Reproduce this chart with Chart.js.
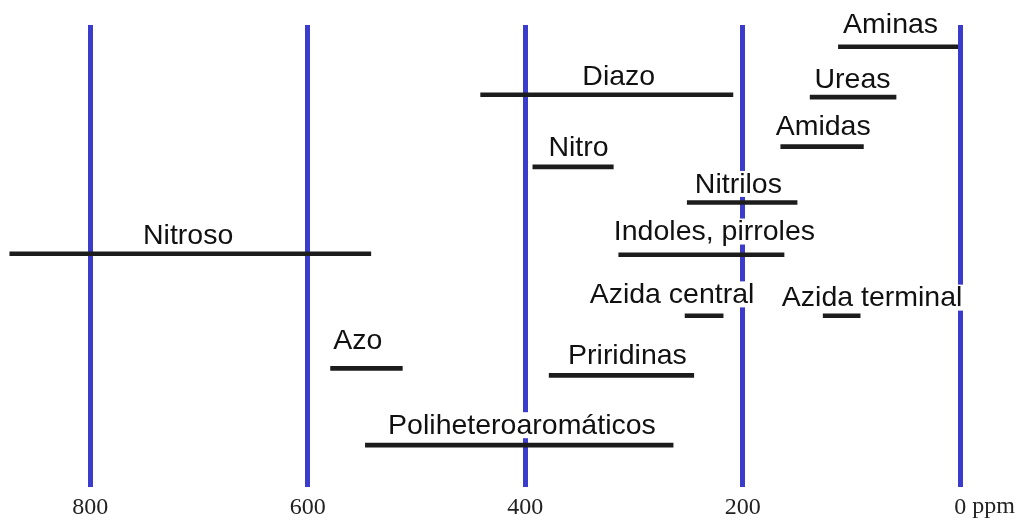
<!DOCTYPE html>
<html>
<head>
<meta charset="utf-8">
<script src="https://cdn.jsdelivr.net/npm/chart.js@4"></script>
<style>
  html, body { margin: 0; padding: 0; background: #fff; }
  #wrap { width: 1020px; height: 523px; }
</style>
</head>
<body>
<div id="wrap"><canvas id="chart"></canvas></div>
<script>
// chemical shift ranges (ppm), one bar per group
const groups = ['Aminas', 'Diazo', 'Ureas', 'Amidas', 'Nitro', 'Nitrilos', 'Nitroso',
    'Indoles, pirroles', 'Azida central', 'Azida terminal', 'Azo', 'Priridinas', 'Poliheteroaromáticos'];
const ppmFrom = [0, 209, 59, 89, 319, 150, 542, 162, 218, 92, 513, 245, 264];
const ppmTo = [112, 441, 138, 165, 393, 251, 874, 314, 253, 126, 579, 378, 547];
const rows = [0.47, 1.51, 1.56, 2.63, 3.07, 3.84, 4.95, 4.97, 6.29, 6.29, 7.43, 7.58, 9.09];
// where each name sits (ppm, row)
const labelPpm = [64, 314, 99, 126, 351, 204, 710, 226, 265, 81, 554, 306, 403];
const labelRow = [0, 1.12, 1.19, 2.2, 2.66, 3.46, 4.56, 4.49, 5.85, 5.92, 6.85, 7.17, 8.68];
const tickValues = [0, 200, 400, 600, 800];

const labelFont = '28.5px "Liberation Sans", Arial, sans-serif';

const groupLabels = {
    id: 'groupLabels',
    afterDatasetsDraw(chart) {
        const { ctx, scales: { x, y } } = chart;
        ctx.save();
        ctx.font = labelFont;
        ctx.textAlign = 'center';
        ctx.textBaseline = 'middle';
        groups.forEach((name, i) => {
            const px = x.getPixelForValue(labelPpm[i]);
            const py = y.getPixelForValue(labelRow[i]);
            const w = ctx.measureText(name).width;
            ctx.fillStyle = '#fff';
            ctx.fillRect(px - w / 2 - 1, py - 14, w + 2, 26);
            ctx.fillStyle = '#111';
            ctx.fillText(name, px, py);
        });
        // unit after the zero tick
        ctx.font = '24px "Liberation Serif", "Times New Roman", serif';
        ctx.textAlign = 'left';
        ctx.fillStyle = '#222';
        const zx = x.getPixelForValue(0);
        ctx.fillText('ppm', zx + 12, chart.chartArea.bottom + 20);
        ctx.restore();
    }
};

new Chart(document.getElementById('chart'), {
    type: 'bar',
    data: {
        datasets: [{
            data: groups.map((g, i) => ({ x: [ppmFrom[i], ppmTo[i]], y: rows[i] })),
            backgroundColor: '#1c1c1c',
            borderWidth: 0,
            barThickness: 4
        }]
    },
    options: {
        indexAxis: 'y',
        responsive: true,
        maintainAspectRatio: false,
        animation: false,
        layout: { padding: { top: 25, bottom: -5, left: 0, right: 0 } },
        plugins: { legend: { display: false }, tooltip: { enabled: false } },
        scales: {
            x: {
                type: 'linear',
                reverse: true,
                min: -55,
                max: 883,
                afterBuildTicks: (axis) => { axis.ticks = tickValues.map(v => ({ value: v })); },
                grid: { color: '#3b3bcc', lineWidth: 5, drawTicks: false },
                border: { display: false },
                ticks: {
                    padding: 6,
                    color: '#222',
                    maxRotation: 0,
                    font: { family: '"Liberation Serif", "Times New Roman", serif', size: 24 },
                    callback: (v) => String(v)
                }
            },
            y: {
                type: 'linear',
                reverse: true,
                offset: false,
                min: 0,
                max: 10,
                display: false
            }
        }
    },
    plugins: [groupLabels]
});
</script>
</body>
</html>
